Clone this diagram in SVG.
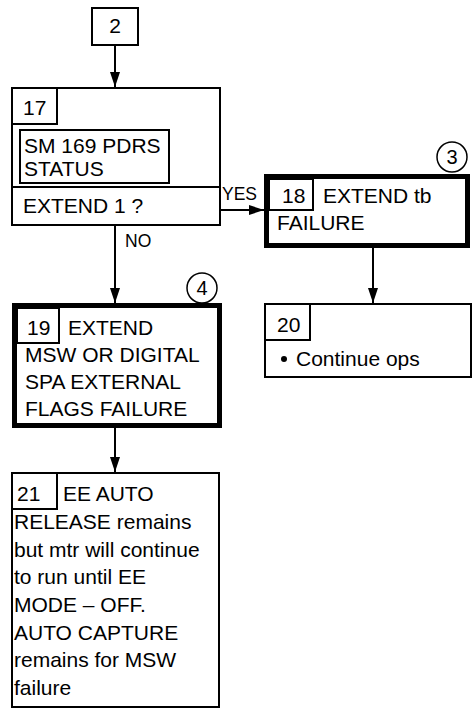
<svg xmlns="http://www.w3.org/2000/svg" width="472" height="709" viewBox="0 0 472 709">
<style>
  .box { fill: #fff; stroke: #000; stroke-width: 2; }
  .thick { fill: #fff; stroke: #000; stroke-width: 5; }
  .inner { fill: none; stroke: #000; stroke-width: 2; }
  .t { font-family: "Liberation Sans", Arial, sans-serif; font-size: 21px; fill: #000; }
  .lbl { font-family: "Liberation Sans", Arial, sans-serif; font-size: 17.5px; fill: #000; }
  .circ { fill: #fff; stroke: #000; stroke-width: 1.5; }
  .num { font-family: "Liberation Sans", Arial, sans-serif; font-size: 20px; fill: #000; text-anchor: middle; }
  .conn { stroke: #000; stroke-width: 2; fill: none; marker-end: url(#arr); }
</style>
<defs>
  <marker id="arr" viewBox="0 0 15 10" refX="15" refY="5" markerWidth="15" markerHeight="10" markerUnits="userSpaceOnUse" orient="auto">
    <path d="M0,0 L15,5 L0,10 z" fill="#000"/>
  </marker>
</defs>
<rect width="472" height="709" fill="#fff"/>

<g id="connectors">
  <line class="conn" x1="115" y1="45" x2="115" y2="87"/>
  <line class="conn" x1="220" y1="210" x2="264" y2="210"/>
  <line class="conn" x1="115" y1="226" x2="115" y2="303"/>
  <line class="conn" x1="373" y1="248" x2="373" y2="303"/>
  <line class="conn" x1="115" y1="428" x2="115" y2="472"/>
  <text class="lbl" x="222" y="200">YES</text>
  <text class="lbl" x="125" y="247">NO</text>
</g>

<g id="node2">
  <rect class="box" x="92" y="8" width="46" height="37"/>
  <text class="t" x="115" y="33" text-anchor="middle">2</text>
</g>

<g id="node17">
  <rect class="box" x="12" y="88" width="208" height="137"/>
  <rect class="inner" x="12" y="88" width="45" height="36"/>
  <text class="t" x="23" y="115">17</text>
  <rect class="inner" x="20" y="130" width="149" height="53"/>
  <text class="t" x="24" y="153">SM 169 PDRS</text>
  <text class="t" x="24" y="176">STATUS</text>
  <line x1="12" y1="187" x2="220" y2="187" stroke="#000" stroke-width="2"/>
  <text class="t" x="23" y="213">EXTEND 1 ?</text>
</g>

<g id="node18">
  <rect class="thick" x="266.5" y="176.5" width="201" height="69"/>
  <rect class="inner" x="269" y="179" width="44" height="31"/>
  <text class="t" x="282" y="203">18</text>
  <text class="t" x="323" y="203">EXTEND tb</text>
  <text class="t" x="277" y="230">FAILURE</text>
  <circle class="circ" cx="452" cy="157" r="15"/>
  <text class="num" x="452" y="164">3</text>
</g>

<g id="node19">
  <rect class="thick" x="14.5" y="305.5" width="205" height="120"/>
  <rect class="inner" x="17" y="308" width="42" height="35"/>
  <text class="t" x="27" y="335">19</text>
  <text class="t" x="68" y="335">EXTEND</text>
  <text class="t" x="25" y="362">MSW OR DIGITAL</text>
  <text class="t" x="25" y="389">SPA EXTERNAL</text>
  <text class="t" x="25" y="416">FLAGS FAILURE</text>
  <circle class="circ" cx="202" cy="288" r="15"/>
  <text class="num" x="202" y="295">4</text>
</g>

<g id="node20">
  <rect class="box" x="265" y="304" width="206" height="73"/>
  <rect class="inner" x="265" y="304" width="45" height="36"/>
  <text class="t" x="277" y="332">20</text>
  <circle cx="284" cy="359" r="3" fill="#000"/>
  <text class="t" x="296" y="366">Continue ops</text>
</g>

<g id="node21">
  <rect class="box" x="12" y="473" width="207" height="234"/>
  <rect class="inner" x="12" y="473" width="45" height="36"/>
  <text class="t" x="17" y="501">21</text>
  <text class="t" x="63" y="501">EE AUTO</text>
  <text class="t" x="14" y="528.5">RELEASE remains</text>
  <text class="t" x="14" y="556.5">but mtr will continue</text>
  <text class="t" x="14" y="584">to run until EE</text>
  <text class="t" x="14" y="611.5">MODE – OFF.</text>
  <text class="t" x="14" y="639.5">AUTO CAPTURE</text>
  <text class="t" x="14" y="667">remains for MSW</text>
  <text class="t" x="14" y="695">failure</text>
</g>
</svg>
